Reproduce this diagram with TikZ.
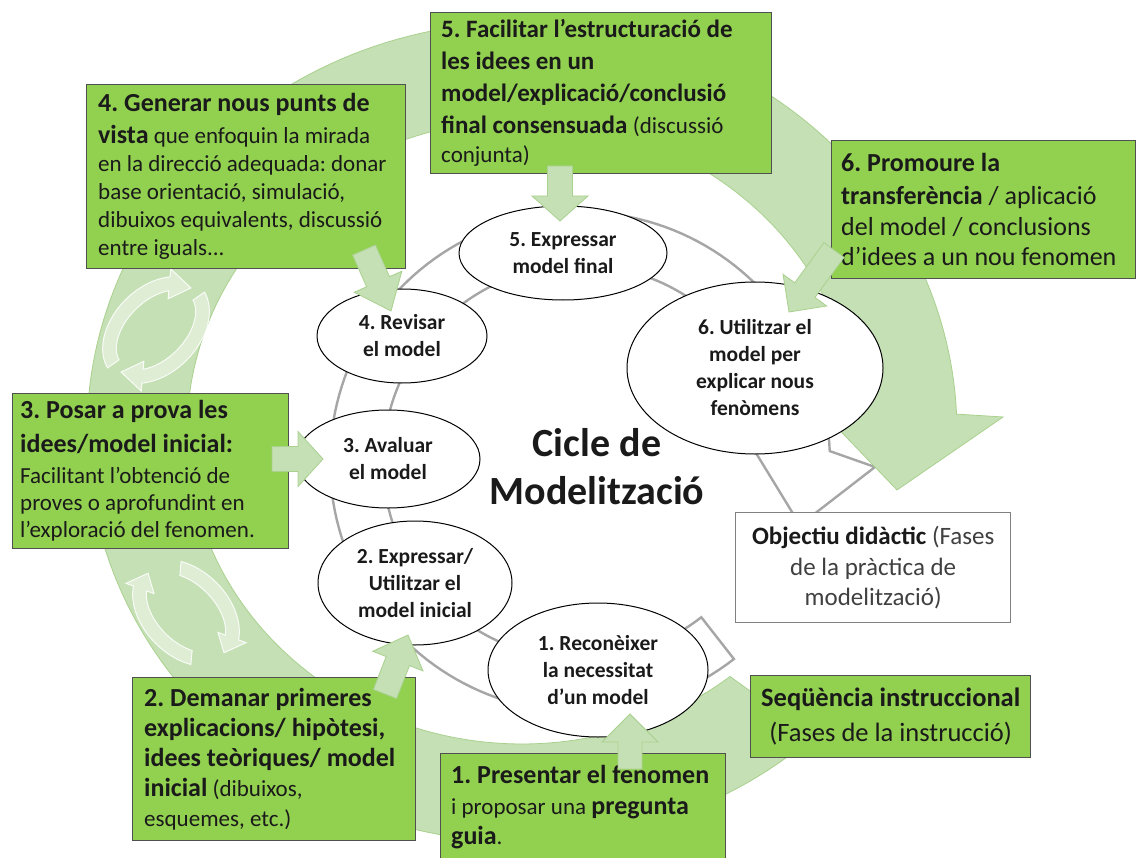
\documentclass[tikz,border=0pt]{standalone}
\usepackage{fontspec}
\setmainfont{Carlito}
\usetikzlibrary{shapes.geometric,calc}
\definecolor{boxgreen}{HTML}{92D050}
\definecolor{lightgreen}{HTML}{C5E0B4}
\definecolor{ringedge}{HTML}{A9D18E}
\definecolor{ringgray}{HTML}{A6A6A6}
\definecolor{boxedge}{HTML}{505050}
\definecolor{txt}{HTML}{1A1A1A}
\newcommand{\fsT}{\fontsize{26}{31}\selectfont}
\newcommand{\fsB}{\fontsize{23}{28}\selectfont}
\newcommand{\blockarr}[5]{%
  \coordinate (#2-h) at ($(#2)!#5!(#1)$);
  \draw[blockarrow] ($(#1)!#3!90:(#2)$) -- ($(#2-h)!#3!-90:(#1)$) -- ($(#2-h)!#4!-90:(#1)$) -- (#2) -- ($(#2-h)!#4!90:(#1)$) -- ($(#2-h)!#3!90:(#1)$) -- ($(#1)!#3!-90:(#2)$) -- cycle;}
\newcommand{\iconarc}[8]{%
  \draw[iconshape] plot[domain=#6:#7,samples=40] ({#1+(#3+7)*cos(\x)*cos(#5)-(#4+7)*sin(\x)*sin(#5)},{#2+(#3+7)*cos(\x)*sin(#5)+(#4+7)*sin(\x)*cos(#5)})
  -- ({#1+(#3+15)*cos(#7)*cos(#5)-(#4+15)*sin(#7)*sin(#5)},{#2+(#3+15)*cos(#7)*sin(#5)+(#4+15)*sin(#7)*cos(#5)})
  -- ({#1+(#3)*cos(#8)*cos(#5)-(#4)*sin(#8)*sin(#5)},{#2+(#3)*cos(#8)*sin(#5)+(#4)*sin(#8)*cos(#5)})
  -- ({#1+(#3-15)*cos(#7)*cos(#5)-(#4-15)*sin(#7)*sin(#5)},{#2+(#3-15)*cos(#7)*sin(#5)+(#4-15)*sin(#7)*cos(#5)})
  -- plot[domain=#7:#6,samples=40] ({#1+(#3-7)*cos(\x)*cos(#5)-(#4-7)*sin(\x)*sin(#5)},{#2+(#3-7)*cos(\x)*sin(#5)+(#4-7)*sin(\x)*cos(#5)}) -- cycle;}
\begin{document}
\frenchspacing
\begin{tikzpicture}[x=1pt,y=-1pt,
  gbox/.style={draw=boxedge, line width=1.4pt, fill=boxgreen, anchor=north west, inner sep=0pt},
  wbox/.style={draw=gray, line width=1.4pt, fill=white, anchor=north west, inner sep=0pt},
  boxtext/.style={anchor=west, align=left, inner sep=0pt, text=txt},
  ctext/.style={anchor=center, align=center, inner sep=0pt, text=txt},
  phase/.style={ellipse, draw=black, line width=1pt, fill=white, inner sep=0pt, align=center, text=txt, font=\fontsize{21.5}{27}\selectfont\bfseries},
  blockarrow/.style={fill=lightgreen, draw=ringedge, line width=0.8pt, line join=miter},
  iconshape/.style={fill=white, fill opacity=0.45, draw=white, draw opacity=0.85, line width=1pt},
  ringline/.style={draw=ringgray, line width=2.4pt, line join=miter},
  greenring/.style={fill=lightgreen, draw=ringedge, line width=0.8pt}]
\fill[white] (0,0) rectangle (1139,858);
\useasboundingbox (0,0) rectangle (1139,858);

% grey cycle arrow (modelling cycle)
\draw[ringline] plot[domain=52:357.5,samples=150] ({580+250*cos(\x)},{462+250*sin(\x)}) -- (875,467) -- (800,525) -- (748,440) -- plot[domain=356:52,samples=150] ({580+197*cos(\x)},{462+197*sin(\x)}) -- cycle;

% green cycle arrow (instructional sequence)
\draw[greenring] plot[domain=48:357.5,samples=200] ({522+435*cos(\x)},{432+410*sin(\x)}) -- (1003,417) -- (897,490) -- (826,416) -- plot[domain=357.5:51.6,samples=200] ({522+335*cos(\x)},{432+312*sin(\x)}) -- cycle;

% refresh icons
\iconarc{156}{330}{55}{36}{-45}{190}{320}{352}
\iconarc{156}{330}{55}{36}{-45}{10}{140}{172}
\iconarc{186}{613}{55}{36}{45}{230}{335}{362}
\iconarc{186}{613}{55}{36}{45}{50}{155}{182}

% phases of the modelling cycle
\node[phase, minimum width=208pt, minimum height=94pt] (e5) at (563,253) {5. Expressar\\model final};
\node[phase, minimum width=170pt, minimum height=94pt] (e4) at (402,336) {4. Revisar\\el model};
\node[phase, minimum width=184pt, minimum height=98pt] (e3) at (388,459) {3. Avaluar\\el model};
\node[phase, minimum width=194pt, minimum height=124pt] (e2) at (415,583) {2. Expressar/\\Utilitzar el\\model inicial};
\node[phase, minimum width=220pt, minimum height=134pt] (e1) at (598,670) {1. Reconèixer\\la necessitat\\d’un model};
\node[phase, minimum width=256pt, minimum height=172pt] (e6) at (755,368) {6. Utilitzar el\\model per\\explicar nous\\fenòmens};

\node[font=\fontsize{40}{48}\selectfont\bfseries, align=center, text=txt] (title) at (597,467) {Cicle de\\Modelització};

% instructional boxes
\node[gbox, minimum width=341pt, minimum height=161pt] (b5) at (430,12) {};
\node[boxtext, font=\fontsize{25}{32}\selectfont] (b5t) at ($(b5.west)+(11,0)$)
  {\textbf{5. Facilitar l’estructuració de}\\\textbf{les idees en un}\\\textbf{model/explicació/conclusió}\\\textbf{final consensuada} {\fsB(discussió}\\[-3pt]{\fsB conjunta)}};
\node[gbox, minimum width=319pt, minimum height=184pt] (b4) at (86,84) {};
\node[boxtext, font=\fsB] (b4t) at ($(b4.west)+(12,0)$)
  {{\fsT\bfseries 4. Generar nous punts de}\\[4pt]{\fsT\bfseries vista} que enfoquin la mirada\\en la direcció adequada: donar\\base orientació, simulació,\\dibuixos equivalents, discussió\\entre iguals...};
\node[gbox, minimum width=304pt, minimum height=138pt] (b6) at (831,140) {};
\node[boxtext, font=\fontsize{26}{30.5}\selectfont] (b6t) at ($(b6.west)+(10,0)$)
  {\textbf{6. Promoure la}\\[3pt]\textbf{transferència} / aplicació\\del model / conclusions\\d’idees a un nou fenomen};
\node[gbox, minimum width=276pt, minimum height=155pt] (b3) at (12,393) {};
\node[boxtext, font=\fontsize{23}{27}\selectfont] (b3t) at ($(b3.west)+(8,0)$)
  {{\fsT\bfseries 3. Posar a prova les}\\[7pt]{\fsT\bfseries idees/model inicial:}\\[4pt]Facilitant l’obtenció de\\proves o aprofundint en\\l’exploració del fenomen.};
\node[gbox, minimum width=283pt, minimum height=163pt] (b2) at (132,677) {};
\node[boxtext, font=\fontsize{23}{30}\selectfont] (b2t) at ($(b2.west)+(12,0)$)
  {{\fsT\bfseries 2. Demanar primeres}\\{\fsT\bfseries explicacions/ hipòtesi,}\\{\fsT\bfseries idees teòriques/ model}\\{\fsT\bfseries inicial} (dibuixos,\\esquemes, etc.)};
\node[gbox, minimum width=285pt, minimum height=107pt] (b1) at (440,753) {};
\node[boxtext, font=\fontsize{23}{30.5}\selectfont] (b1t) at ($(b1.west)+(11,0)$)
  {{\fsT\bfseries 1. Presentar el fenomen}\\i proposar una {\fsT\bfseries pregunta}\\{\fsT\bfseries guia}.};
\node[gbox, minimum width=280pt, minimum height=82pt] (seq) at (750,675) {};
\node[ctext, font=\fontsize{26.5}{35}\selectfont] (seqt) at (seq.center)
  {\textbf{Seqüència instruccional}\\(Fases de la instrucció)};
\node[wbox, minimum width=275pt, minimum height=110pt] (obj) at (735,512) {};
\node[ctext, font=\fontsize{25}{30.5}\selectfont] (objt) at (obj.center)
  {\textbf{Objectiu didàctic} {\color{black!75}(Fases}\\{\color{black!75}de la pràctica de}\\{\color{black!75}modelització)}};

% block arrows from the instructional boxes to the phases
\coordinate (a5t) at (560,166); \coordinate (a5h) at (560,221);
\coordinate (a4t) at (364,250); \coordinate (a4h) at (391,311);
\coordinate (a6t) at (834,250); \coordinate (a6h) at (789,312);
\coordinate (a3t) at (272,459); \coordinate (a3h) at (323,459);
\coordinate (a2t) at (385,694); \coordinate (a2h) at (408,635);
\coordinate (a1t) at (630,769); \coordinate (a1h) at (630,714);
\blockarr{a5t}{a5h}{12.5pt}{28pt}{25pt}
\blockarr{a4t}{a4h}{12.5pt}{26pt}{32pt}
\blockarr{a6t}{a6h}{12.5pt}{27pt}{27pt}
\blockarr{a3t}{a3h}{12.5pt}{27.5pt}{25pt}
\blockarr{a2t}{a2h}{12.5pt}{27pt}{28pt}
\blockarr{a1t}{a1h}{12pt}{28pt}{28pt}
\end{tikzpicture}
\end{document}
